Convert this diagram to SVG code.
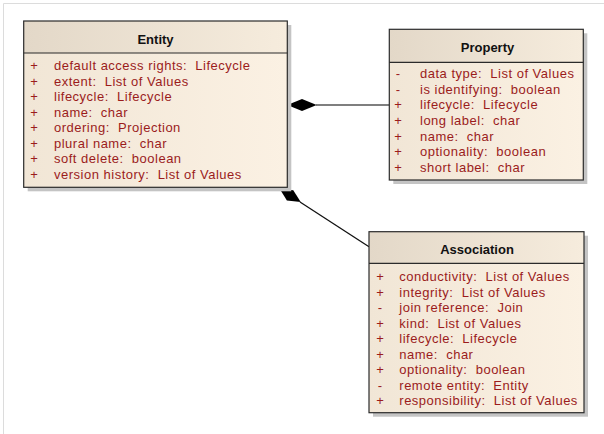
<svg xmlns="http://www.w3.org/2000/svg" width="604" height="434" viewBox="0 0 604 434" xml:space="preserve">
  <defs>
    <linearGradient id="hdr" x1="0" y1="0" x2="1" y2="0">
      <stop offset="0" stop-color="#e3d8c8"/>
      <stop offset="1" stop-color="#f6ecdd"/>
    </linearGradient>
    <linearGradient id="body" x1="0" y1="0" x2="1" y2="0">
      <stop offset="0" stop-color="#f1e6d6"/>
      <stop offset="1" stop-color="#fbf1e3"/>
    </linearGradient>
    <style>
      text { white-space: pre; }
      .shadow { fill: #c4c4c4; }
      .frame { stroke: #2b2b2b; stroke-width: 1.2; fill: none; }
      .hdr { fill: url(#hdr); }
      .body { fill: url(#body); }
      .title { font-family: "Liberation Sans", Arial, sans-serif; font-size: 13px; font-weight: bold; fill: #111; text-anchor: middle; }
      .attr { font-family: "Liberation Sans", Arial, sans-serif; font-size: 13px; letter-spacing: 0.5px; fill: #9b1c1c; }
      .sign { font-family: "Liberation Sans", Arial, sans-serif; font-size: 13px; fill: #9b1c1c; text-anchor: middle; }
      .link { stroke-width: 1.3; fill: none; }
      .diamond { fill: #000; }
    </style>
  </defs>

  <rect width="604" height="434" fill="#ffffff"/>
  <!-- page border -->
  <path d="M3.5,434 V3.5 H604" fill="none" stroke="#dcdcdc" stroke-width="1"/>

  <!-- connectors -->
  <g id="connectors">
    <path class="link" stroke="#555" d="M316,105 H389"/>
    <polygon class="diamond" points="287.3,105 302,99 316.7,105 302,111"/>
    <path class="link" stroke="#111" d="M300,202 L369,246.7"/>
    <polygon class="diamond" points="279.5,188.5 293.3,190.2 300.7,202 286.9,200.4"/>
  </g>

  <!-- Entity -->
  <g id="entity">
    <rect class="shadow" x="27.7" y="25" width="263.6" height="166.3"/>
    <rect class="hdr" x="23.7" y="21" width="263.6" height="32"/>
    <rect class="body" x="23.7" y="53" width="263.6" height="134.3"/>
    <rect class="frame" x="23.7" y="21" width="263.6" height="166.3"/>
    <path class="frame" d="M23.7,53 H287.3"/>
    <text class="title" x="155.5" y="44.3">Entity</text>
    <g>
      <text class="sign" x="34" y="70">+</text><text class="attr" x="54" y="70">default access rights:  Lifecycle</text>
      <text class="sign" x="34" y="85.5">+</text><text class="attr" x="54" y="85.5">extent:  List of Values</text>
      <text class="sign" x="34" y="101">+</text><text class="attr" x="54" y="101">lifecycle:  Lifecycle</text>
      <text class="sign" x="34" y="116.5">+</text><text class="attr" x="54" y="116.5">name:  char</text>
      <text class="sign" x="34" y="132">+</text><text class="attr" x="54" y="132">ordering:  Projection</text>
      <text class="sign" x="34" y="147.5">+</text><text class="attr" x="54" y="147.5">plural name:  char</text>
      <text class="sign" x="34" y="163">+</text><text class="attr" x="54" y="163">soft delete:  boolean</text>
      <text class="sign" x="34" y="178.5">+</text><text class="attr" x="54" y="178.5">version history:  List of Values</text>
    </g>
  </g>

  <!-- Property -->
  <g id="property">
    <rect class="shadow" x="393.3" y="33.3" width="194" height="150.7"/>
    <rect class="hdr" x="389.3" y="29.3" width="194" height="33"/>
    <rect class="body" x="389.3" y="62.3" width="194" height="117.7"/>
    <rect class="frame" x="389.3" y="29.3" width="194" height="150.7"/>
    <path class="frame" d="M389.3,62.3 H583.3"/>
    <text class="title" x="487.5" y="51.7">Property</text>
    <g>
      <text class="sign" x="398" y="78.3">-</text><text class="attr" x="420" y="78.3">data type:  List of Values</text>
      <text class="sign" x="398" y="93.9">-</text><text class="attr" x="420" y="93.9">is identifying:  boolean</text>
      <text class="sign" x="398" y="109.4">+</text><text class="attr" x="420" y="109.4">lifecycle:  Lifecycle</text>
      <text class="sign" x="398" y="125">+</text><text class="attr" x="420" y="125">long label:  char</text>
      <text class="sign" x="398" y="140.5">+</text><text class="attr" x="420" y="140.5">name:  char</text>
      <text class="sign" x="398" y="156.1">+</text><text class="attr" x="420" y="156.1">optionality:  boolean</text>
      <text class="sign" x="398" y="171.7">+</text><text class="attr" x="420" y="171.7">short label:  char</text>
    </g>
  </g>

  <!-- Association -->
  <g id="association">
    <rect class="shadow" x="373" y="235.7" width="215" height="181"/>
    <rect class="hdr" x="369" y="231.7" width="215" height="31.6"/>
    <rect class="body" x="369" y="263.3" width="215" height="149.4"/>
    <rect class="frame" x="369" y="231.7" width="215" height="181"/>
    <path class="frame" d="M369,263.3 H584"/>
    <text class="title" x="477" y="254">Association</text>
    <g>
      <text class="sign" x="380" y="281">+</text><text class="attr" x="399.3" y="281">conductivity:  List of Values</text>
      <text class="sign" x="380" y="296.5">+</text><text class="attr" x="399.3" y="296.5">integrity:  List of Values</text>
      <text class="sign" x="380" y="312">-</text><text class="attr" x="399.3" y="312">join reference:  Join</text>
      <text class="sign" x="380" y="327.5">+</text><text class="attr" x="399.3" y="327.5">kind:  List of Values</text>
      <text class="sign" x="380" y="343">+</text><text class="attr" x="399.3" y="343">lifecycle:  Lifecycle</text>
      <text class="sign" x="380" y="358.5">+</text><text class="attr" x="399.3" y="358.5">name:  char</text>
      <text class="sign" x="380" y="374">+</text><text class="attr" x="399.3" y="374">optionality:  boolean</text>
      <text class="sign" x="380" y="389.5">-</text><text class="attr" x="399.3" y="389.5">remote entity:  Entity</text>
      <text class="sign" x="380" y="405">+</text><text class="attr" x="399.3" y="405">responsibility:  List of Values</text>
    </g>
  </g>
</svg>
